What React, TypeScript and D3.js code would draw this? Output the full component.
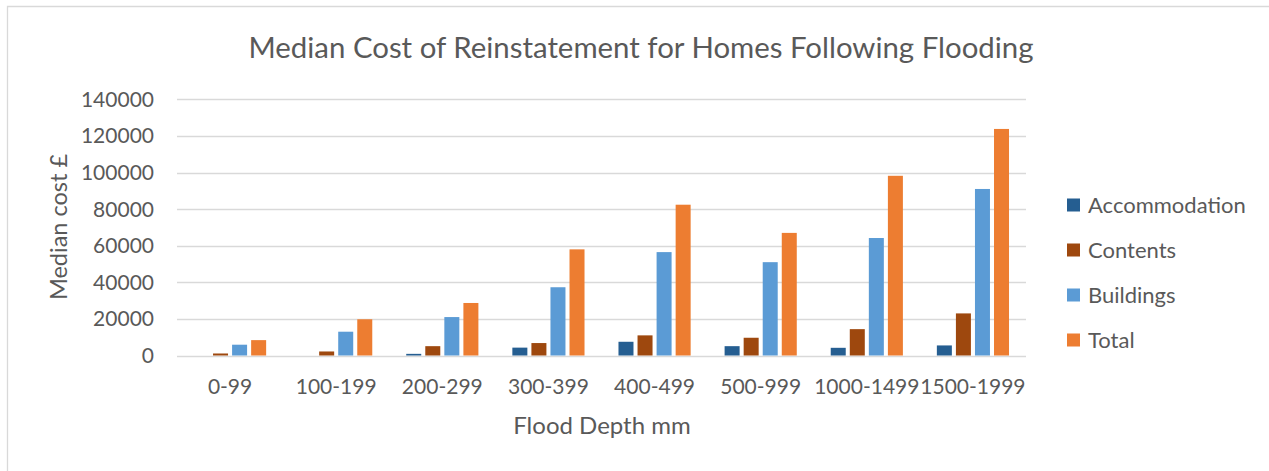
import React from "react";
import * as d3 from "d3";

const categories = ["0-99", "100-199", "200-299", "300-399", "400-499", "500-999", "1000-1499", "1500-1999"];
const seriesNames = ["Accommodation", "Contents", "Buildings", "Total"];
const accommodation = [0, 0, 900, 4300, 7500, 5100, 4200, 5500];
const contents = [1100, 2200, 5100, 6800, 11000, 9700, 14400, 23000];
const buildings = [5900, 13000, 21000, 37300, 56500, 51000, 64200, 91000];
const total = [8400, 19800, 28700, 58000, 82400, 67000, 98200, 123800];
const yTicks = [0, 20000, 40000, 60000, 80000, 100000, 120000, 140000];
const colors = ["#255E91", "#9E480E", "#5B9BD5", "#ED7D31"];

const W = 1269;
const H = 471;
const FONT = "Lato, 'Open Sans', sans-serif";
const TXT = "#595959";

export default function App() {
  const values = [accommodation, contents, buildings, total];
  const x0 = d3.scaleBand<string>().domain(categories).range([177, 1026]).paddingInner(0.32).paddingOuter(0.16);
  const x1 = d3.scaleBand<string>().domain(seriesNames).range([0, x0.bandwidth()]).paddingInner(0.2126);
  const y = d3.scaleLinear().domain([0, 140000]).range([355.5, 99.3]);

  return (
    <svg width={W} height={H} style={{ position: "absolute", left: 0, top: 0, background: "#fff" }}>
      <rect x={0} y={0} width={W} height={H} fill="#fff" />
      <path d={`M7.5,${H + 2}V6.5H${W + 2}`} fill="none" stroke="#d9d9d9" strokeWidth={1.3} />
      <text x={641} y={58} textAnchor="middle" fontFamily={FONT} fontSize={29.4} fill={TXT}>
        Median Cost of Reinstatement for Homes Following Flooding
      </text>
      {yTicks.map((t) => (
        <g key={t}>
          <line x1={177} x2={1026} y1={Math.round(y(t)) + 0.5} y2={Math.round(y(t)) + 0.5} stroke="#d9d9d9" strokeWidth={1.3} />
          <text x={154} y={y(t) + 7.5} textAnchor="end" fontFamily={FONT} fontSize={21} fill={TXT}>
            {t}
          </text>
        </g>
      ))}
      {categories.map((c, i) => (
        <g key={c}>
          {values.map((vals, s) => (
            <rect
              key={s}
              x={(x0(c) ?? 0) + (x1(seriesNames[s]) ?? 0)}
              y={y(vals[i])}
              width={x1.bandwidth()}
              height={y(0) - y(vals[i])}
              fill={colors[s]}
            />
          ))}
          <text x={(x0(c) ?? 0) + x0.bandwidth() / 2} y={394} textAnchor="middle" fontFamily={FONT} fontSize={21} fill={TXT}>
            {c}
          </text>
        </g>
      ))}
      <text x={602} y={434} textAnchor="middle" fontFamily={FONT} fontSize={24} fill={TXT}>
        Flood Depth mm
      </text>
      <text transform="translate(67,227) rotate(-90)" textAnchor="middle" fontFamily={FONT} fontSize={23.5} fill={TXT}>
        Median cost £
      </text>
      {seriesNames.map((n, s) => (
        <g key={n} transform={`translate(1067,${205 + s * 45})`}>
          <rect x={0} y={-6.5} width={13} height={13} fill={colors[s]} />
          <text x={21} y={7.5} fontFamily={FONT} fontSize={22} fill={TXT}>
            {n}
          </text>
        </g>
      ))}
    </svg>
  );
}
